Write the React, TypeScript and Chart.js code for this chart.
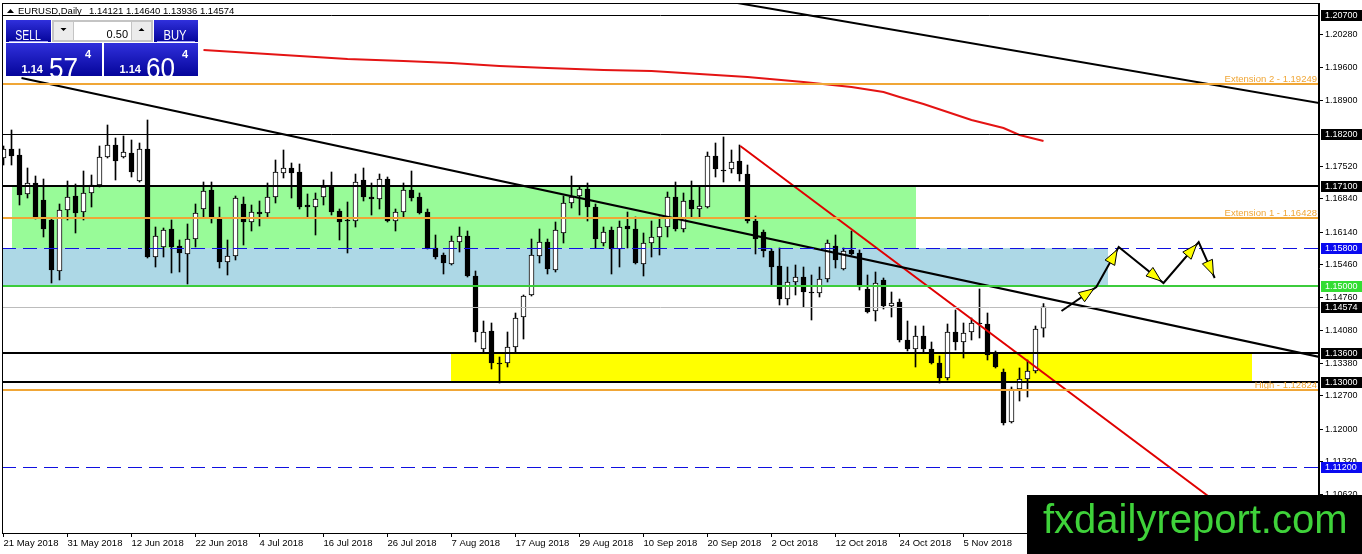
import React, { useEffect, useRef } from "react"
import { Chart, registerables } from "chart.js"

Chart.register(...registerables)

const FONT = "'Liberation Sans', Arial, sans-serif"

// one bar per trading day, bar 0 = 21 May 2018
const dateLabels = [
  "21 May 2018", "31 May 2018", "12 Jun 2018", "22 Jun 2018", "4 Jul 2018", "16 Jul 2018",
  "26 Jul 2018", "7 Aug 2018", "17 Aug 2018", "29 Aug 2018", "10 Sep 2018", "20 Sep 2018",
  "2 Oct 2018", "12 Oct 2018", "24 Oct 2018", "5 Nov 2018",
]
const dateStep = 8

const opens = [
  1.17697, 1.17886, 1.1776, 1.16941, 1.17172, 1.16815, 1.16395, 1.15324, 1.16605, 1.16899,
  1.16563, 1.16962, 1.1713, 1.17718, 1.1797, 1.17718, 1.17802, 1.17214, 1.17886, 1.15618,
  1.15828, 1.16206, 1.15849, 1.15681, 1.15996, 1.16626, 1.17025, 1.16416, 1.15513, 1.15639,
  1.16731, 1.16353, 1.16563, 1.16542, 1.16878, 1.17382, 1.17487, 1.17403, 1.1671, 1.16668,
  1.16878, 1.17088, 1.16584, 1.16395, 1.16374, 1.17235, 1.16878, 1.16836, 1.17256, 1.16374,
  1.16563, 1.17025, 1.16878, 1.16563, 1.15807, 1.1566, 1.15471, 1.15933, 1.16059, 1.15219,
  1.13686, 1.14064, 1.13392, 1.13392, 1.13728, 1.14358, 1.1482, 1.15639, 1.15933, 1.15345,
  1.16122, 1.16752, 1.16899, 1.17046, 1.16668, 1.15912, 1.16185, 1.15786, 1.16269, 1.16206,
  1.15471, 1.15912, 1.16038, 1.16248, 1.16878, 1.16206, 1.16815, 1.16626, 1.16668, 1.17739,
  1.17445, 1.17466, 1.17634, 1.17361, 1.16374, 1.16143, 1.15744, 1.15429, 1.14736, 1.15093,
  1.15198, 1.14883, 1.14862, 1.15156, 1.15849, 1.15366, 1.15765, 1.15702, 1.14946, 1.14484,
  1.15135, 1.14589, 1.14673, 1.13875, 1.13686, 1.13959, 1.13686, 1.13392, 1.13077, 1.14043,
  1.13833, 1.14043, 1.14232, 1.14211, 1.13602, 1.13203, 1.12153, 1.12846, 1.13056, 1.13224,
  1.14121,
]
const highs = [
  1.17949, 1.18285, 1.17886, 1.17487, 1.17319, 1.17256, 1.16437, 1.16731, 1.17214, 1.17151,
  1.17424, 1.1734, 1.17949, 1.1839, 1.18117, 1.18159, 1.18075, 1.18012, 1.18495, 1.16248,
  1.16227, 1.16395, 1.15975, 1.16311, 1.16731, 1.17193, 1.17193, 1.16668, 1.15975, 1.16899,
  1.16878, 1.1671, 1.16794, 1.17172, 1.17655, 1.17865, 1.17592, 1.17571, 1.16941, 1.16962,
  1.17235, 1.17403, 1.16626, 1.16773, 1.17361, 1.17487, 1.17172, 1.17361, 1.17298, 1.16626,
  1.17172, 1.17424, 1.16962, 1.16626, 1.1608, 1.15702, 1.16059, 1.16248, 1.16164, 1.15324,
  1.14274, 1.14232, 1.13518, 1.14043, 1.14442, 1.1482, 1.15996, 1.16206, 1.15996, 1.16353,
  1.16899, 1.17319, 1.17088, 1.17172, 1.16731, 1.16248, 1.16248, 1.16374, 1.16563, 1.16458,
  1.16122, 1.16374, 1.16458, 1.16983, 1.17193, 1.16962, 1.17214, 1.17088, 1.17823, 1.18012,
  1.18138, 1.17865, 1.1797, 1.1755, 1.16479, 1.16185, 1.15786, 1.15807, 1.15408, 1.1545,
  1.15408, 1.1524, 1.15408, 1.15975, 1.1608, 1.15807, 1.16164, 1.15765, 1.1524, 1.15303,
  1.15177, 1.14883, 1.14736, 1.14274, 1.14169, 1.14169, 1.13833, 1.13539, 1.14211, 1.14505,
  1.14232, 1.14337, 1.14946, 1.14442, 1.13644, 1.13266, 1.12888, 1.13287, 1.13455, 1.14169,
  1.1464,
]
const lows = [
  1.1755, 1.1755, 1.1671, 1.16857, 1.16416, 1.16038, 1.15072, 1.15135, 1.16395, 1.16122,
  1.16395, 1.16668, 1.17088, 1.17697, 1.17235, 1.17697, 1.17298, 1.17193, 1.15597, 1.15408,
  1.15618, 1.15282, 1.15303, 1.15051, 1.15828, 1.16458, 1.16332, 1.15387, 1.1524, 1.15555,
  1.1587, 1.16164, 1.16269, 1.16458, 1.16752, 1.17277, 1.16857, 1.16626, 1.16458, 1.1608,
  1.1671, 1.165, 1.15975, 1.15702, 1.16248, 1.16794, 1.165, 1.16626, 1.16353, 1.16164,
  1.16437, 1.16794, 1.16521, 1.15786, 1.15576, 1.15261, 1.1545, 1.15723, 1.15198, 1.13833,
  1.13602, 1.13266, 1.12972, 1.13308, 1.13623, 1.13896, 1.14799, 1.15492, 1.15261, 1.15303,
  1.15912, 1.16647, 1.165, 1.16374, 1.15807, 1.15849, 1.15261, 1.15408, 1.15807, 1.15471,
  1.15219, 1.15618, 1.1566, 1.16038, 1.16164, 1.16143, 1.16458, 1.16458, 1.16647, 1.17298,
  1.17193, 1.17382, 1.17214, 1.16332, 1.15681, 1.15618, 1.15009, 1.1461, 1.1461, 1.1482,
  1.14568, 1.14295, 1.14778, 1.15093, 1.15387, 1.15345, 1.1566, 1.14925, 1.14442, 1.14274,
  1.14526, 1.14358, 1.13833, 1.13644, 1.13308, 1.13602, 1.13371, 1.12972, 1.13035, 1.13665,
  1.13497, 1.13875, 1.13917, 1.13455, 1.13287, 1.1209, 1.12132, 1.12594, 1.12678, 1.13182,
  1.13936,
]
const closes = [
  1.17886, 1.17739, 1.1692, 1.17172, 1.16437, 1.16206, 1.15345, 1.16605, 1.16878, 1.16542,
  1.16962, 1.1713, 1.17718, 1.1797, 1.17634, 1.17823, 1.17403, 1.17886, 1.15618, 1.16059,
  1.16185, 1.15828, 1.15702, 1.15996, 1.16542, 1.17004, 1.16437, 1.15513, 1.15639, 1.16857,
  1.16353, 1.16563, 1.16521, 1.16878, 1.17403, 1.17487, 1.17382, 1.16668, 1.16668, 1.16836,
  1.17088, 1.16563, 1.16353, 1.16374, 1.17193, 1.16878, 1.16836, 1.17256, 1.16374, 1.16563,
  1.17025, 1.16857, 1.16542, 1.15807, 1.15618, 1.15492, 1.15954, 1.16059, 1.15219, 1.14043,
  1.14043, 1.13392, 1.13371, 1.13728, 1.14337, 1.14799, 1.1566, 1.15933, 1.15366, 1.16185,
  1.16752, 1.16878, 1.17046, 1.16668, 1.15996, 1.16143, 1.15786, 1.16248, 1.16206, 1.15492,
  1.15912, 1.16038, 1.16248, 1.16878, 1.16206, 1.16794, 1.16626, 1.16689, 1.17739, 1.17466,
  1.17424, 1.17613, 1.17361, 1.16374, 1.15996, 1.15744, 1.15408, 1.14736, 1.15093, 1.15198,
  1.14883, 1.14862, 1.15156, 1.15912, 1.15555, 1.15744, 1.15681, 1.14988, 1.14463, 1.15072,
  1.14589, 1.14652, 1.13875, 1.13686, 1.13959, 1.13686, 1.13392, 1.13077, 1.14043, 1.13833,
  1.14022, 1.14232, 1.14211, 1.1356, 1.13308, 1.12132, 1.12846, 1.13056, 1.13224, 1.14106,
  1.14574,
]

// moving average, read at a few bars
const maBars = [25, 31, 37, 43, 50, 56, 62, 68, 75, 81, 87, 93, 100, 106, 110, 112, 115, 118, 121, 125, 127, 130]
const maValues = [
  1.19965, 1.19902, 1.19839, 1.19776, 1.19734, 1.19692, 1.19629, 1.19587, 1.19545, 1.19524, 1.19461,
  1.19398, 1.19293, 1.19188, 1.19083, 1.18978, 1.18831, 1.18663, 1.18495, 1.18327, 1.1818, 1.18054,
]

const priceTicks = [
  1.2028, 1.196, 1.189, 1.1752, 1.1684, 1.1614, 1.1546, 1.1476, 1.1408, 1.1338, 1.127, 1.12, 1.1132, 1.1062,
]

// horizontal levels
const levelPrices = [1.207, 1.19249, 1.182, 1.171, 1.16428, 1.158, 1.15, 1.14574, 1.136, 1.13, 1.12824, 1.112]
const levelTexts = ["", "Extension 2 - 1.19249", "", "", "Extension 1 - 1.16428", "", "", "", "", "", "High - 1.12824", ""]
const levelTags = [true, false, true, true, false, true, true, true, true, true, false, true]

// zones: [fromBar, toBar, top, bottom]
const zones = [
  [1, 114, 1.171, 1.158],
  [-1, 138, 1.158, 1.15],
  [56, 156, 1.136, 1.13],
]

// trend lines: [[bar, price], [bar, price]]
const trendLines = [
  [[2.25, 1.19377], [164.5, 1.13518]],
  [[91.75, 1.20952], [164.5, 1.18852]],
  [[92.1, 1.17949], [156.75, 1.09822]],
]

// projected path
const pathBars = [132.25, 136.6, 139.4, 145, 149.4, 151.4]
const pathPrices = [1.14484, 1.14988, 1.15828, 1.15072, 1.15933, 1.15177]

const headerName = "EURUSD,Daily"
const headerQuote = "1.14121 1.14640 1.13936 1.14574"

// styles
const X_MIN = -0.1875
const X_MAX = 164.4375
const Y_MIN = 1.09822
const Y_MAX = 1.20952
const ORANGE = "#f0a636"
const BLUE = "#1010e0"
const GREEN = "#3ccc3c"
const levelColors = ["#000", ORANGE, "#000", "#000", ORANGE, BLUE, GREEN, "#bcbcbc", "#000", "#000", ORANGE, BLUE]
const levelWidths = [1, 2, 1, 2, 2, 1, 2, 1, 2, 2, 2, 1]
const levelDashed = [false, false, false, false, false, true, false, false, false, false, false, true]
const tagColors = ["#000", "", "#000", "#000", "", "#0a0af0", "#33dd33", "#000", "#000", "#000", "", "#0a0af0"]
const zoneColors = ["#98fb98", "#add8e6", "#ffff00"]
const trendColors = ["#000", "#000", "#e00000"]

const zonesPlugin = {
  id: "zones",
  beforeDatasetsDraw(chart: any) {
    const { ctx, chartArea: a, scales } = chart
    ctx.save()
    ctx.beginPath()
    ctx.rect(a.left, a.top, a.width, a.height)
    ctx.clip()
    zones.forEach((z, k) => {
      const x0 = Math.round(scales.x.getPixelForValue(z[0]))
      const x1 = Math.round(scales.x.getPixelForValue(z[1]))
      const y0 = Math.round(scales.y.getPixelForValue(z[2]))
      const y1 = Math.round(scales.y.getPixelForValue(z[3]))
      ctx.fillStyle = zoneColors[k]
      ctx.fillRect(x0, y0, x1 - x0, y1 - y0)
    })
    ctx.restore()
  },
}

const levelsPlugin = {
  id: "levels",
  afterDatasetsDraw(chart: any) {
    const { ctx, chartArea: a, scales } = chart
    ctx.save()
    ctx.beginPath()
    ctx.rect(a.left, a.top, a.width, a.height)
    ctx.clip()
    levelPrices.forEach((p, k) => {
      const w = levelWidths[k]
      const py = Math.round(scales.y.getPixelForValue(p)) + (w % 2 ? 0.5 : 0)
      ctx.strokeStyle = levelColors[k]
      ctx.lineWidth = w
      ctx.setLineDash(levelDashed[k] ? [14, 7] : [])
      ctx.beginPath()
      ctx.moveTo(a.left, py)
      ctx.lineTo(a.right, py)
      ctx.stroke()
      if (levelTexts[k]) {
        ctx.fillStyle = ORANGE
        ctx.font = "9.5px " + FONT
        ctx.textAlign = "right"
        ctx.textBaseline = "alphabetic"
        ctx.fillText(levelTexts[k], a.right - 2, py - 2)
      }
    })
    ctx.setLineDash([])

    // projected zig-zag with yellow heads
    const pts = pathBars.map((b, k) => [scales.x.getPixelForValue(b), scales.y.getPixelForValue(pathPrices[k])])
    ctx.strokeStyle = "#000"
    ctx.lineWidth = 2
    ctx.beginPath()
    pts.forEach((p, k) => (k ? ctx.lineTo(p[0], p[1]) : ctx.moveTo(p[0], p[1])))
    ctx.stroke()
    for (let k = 1; k < pts.length; k++) {
      const [ax, ay] = pts[k - 1]
      const [bx, by] = pts[k]
      const len = Math.hypot(bx - ax, by - ay)
      const ux = (bx - ax) / len
      const uy = (by - ay) / len
      const tx = bx - ux * 3
      const ty = by - uy * 3
      const hx = tx - ux * 15
      const hy = ty - uy * 15
      ctx.beginPath()
      ctx.moveTo(tx, ty)
      ctx.lineTo(hx - uy * 5.5, hy + ux * 5.5)
      ctx.lineTo(hx + uy * 5.5, hy - ux * 5.5)
      ctx.closePath()
      ctx.fillStyle = "#ffff00"
      ctx.fill()
      ctx.lineWidth = 1
      ctx.stroke()
      ctx.lineWidth = 2
    }
    ctx.restore()
  },
}

function drawTradePanel(ctx: CanvasRenderingContext2D) {
  const blue = (y0: number, y1: number) => {
    const g = ctx.createLinearGradient(0, y0, 0, y1)
    g.addColorStop(0, "#3030dc")
    g.addColorStop(1, "#05059a")
    return g
  }
  ctx.save()
  ctx.fillStyle = blue(20, 42)
  ctx.fillRect(6, 20, 45, 22)
  ctx.fillRect(154, 20, 44, 22)
  ctx.fillStyle = blue(43, 76)
  ctx.fillRect(6, 43, 96, 33)
  ctx.fillRect(104, 43, 94, 33)
  ctx.strokeStyle = "#a0a0f4"
  ctx.lineWidth = 1
  ctx.beginPath()
  ctx.moveTo(9, 41.5)
  ctx.lineTo(48, 41.5)
  ctx.moveTo(157, 41.5)
  ctx.lineTo(195, 41.5)
  ctx.stroke()

  // lot size control
  ctx.fillStyle = "#c4c4c4"
  ctx.fillRect(52, 20, 101, 22)
  ctx.fillStyle = "#ececec"
  ctx.fillRect(54, 22, 19, 18)
  ctx.fillRect(132, 22, 19, 18)
  ctx.fillStyle = "#fff"
  ctx.fillRect(74, 22, 57, 18)
  ctx.fillStyle = "#000"
  ctx.beginPath()
  ctx.moveTo(60.5, 28)
  ctx.lineTo(66.5, 28)
  ctx.lineTo(63.5, 31)
  ctx.closePath()
  ctx.moveTo(138.5, 31)
  ctx.lineTo(144.5, 31)
  ctx.lineTo(141.5, 28)
  ctx.closePath()
  ctx.fill()
  ctx.font = "11px " + FONT
  ctx.textAlign = "right"
  ctx.fillText("0.50", 128, 34.5)

  const narrow = (t: string, x: number, y: number, sx: number) => {
    ctx.save()
    ctx.translate(x, y)
    ctx.scale(sx, 1)
    ctx.fillText(t, 0, 0)
    ctx.restore()
  }
  ctx.fillStyle = "#fff"
  ctx.textAlign = "center"
  ctx.font = "14px " + FONT
  narrow("SELL", 28, 36, 0.75)
  narrow("BUY", 175, 36, 0.8)
  ctx.textAlign = "left"
  ctx.font = "bold 11px " + FONT
  ctx.fillText("1.14", 21.5, 70)
  ctx.fillText("1.14", 119.5, 70)
  ctx.fillText("4", 85, 55)
  ctx.fillText("4", 182, 55)
  ctx.font = "29px " + FONT
  narrow("57", 49, 70, 0.9)
  narrow("60", 146, 70, 0.9)
  ctx.restore()
}

const overlayPlugin = {
  id: "overlay",
  afterDraw(chart: any) {
    const { ctx, chartArea: a, scales } = chart
    ctx.save()
    // frame
    ctx.strokeStyle = "#000"
    ctx.lineWidth = 1
    ctx.strokeRect(a.left + 0.5, a.top + 0.5, a.width - 1, a.height)

    // header
    ctx.fillStyle = "#000"
    ctx.beginPath()
    ctx.moveTo(7, 13)
    ctx.lineTo(14, 13)
    ctx.lineTo(10.5, 9)
    ctx.closePath()
    ctx.fill()
    ctx.font = "9.5px " + FONT
    ctx.textAlign = "left"
    ctx.textBaseline = "alphabetic"
    ctx.fillText(headerName, 18, 14)
    ctx.fillText(headerQuote, 89, 14)

    // price tags on the right axis
    ctx.font = "9px " + FONT
    ctx.textBaseline = "middle"
    levelPrices.forEach((p, k) => {
      if (!levelTags[k]) return
      const py = Math.round(scales.y.getPixelForValue(p))
      ctx.fillStyle = tagColors[k]
      ctx.fillRect(a.right + 2, py - 5, chart.width - a.right - 2, 11)
      ctx.fillStyle = "#fff"
      ctx.fillText(p.toFixed(5), a.right + 6, py + 0.5)
    })

    drawTradePanel(ctx)

    // watermark
    ctx.fillStyle = "#000"
    ctx.fillRect(1027, 495, chart.width - 1027, chart.height - 495)
    ctx.fillStyle = "#3fd23a"
    ctx.font = "40px " + FONT
    ctx.textBaseline = "alphabetic"
    ctx.fillText("fxdailyreport.com", 1043, 533)
    ctx.restore()
  },
}

const CandleChart = () => {
  const canvasRef = useRef<HTMLCanvasElement>(null)

  useEffect(() => {
    if (canvasRef.current == null) {
      return
    }

    const bodies = opens.map((o, i) => ({ x: i, y: [o, closes[i]] }))
    const wicks = highs.map((h, i) => ({ x: i, y: [lows[i], h] }))
    const ma = maBars.map((b, k) => ({ x: b, y: maValues[k] }))
    const trends = trendLines.map((t, k) => ({
      type: "line" as const,
      data: t.map((p) => ({ x: p[0], y: p[1] })),
      borderColor: trendColors[k],
      borderWidth: 2,
      pointRadius: 0,
      order: 0,
    }))

    const chart = new Chart(canvasRef.current, {
      type: "bar",
      data: {
        datasets: [
          {
            type: "bar",
            data: bodies as any,
            backgroundColor: (c: any) => (c.raw && c.raw.y[1] >= c.raw.y[0] ? "#fff" : "#000"),
            borderColor: "#000",
            borderWidth: 1,
            borderSkipped: false,
            barThickness: 5,
            minBarLength: 1,
            grouped: false,
            order: 1,
          },
          {
            type: "bar",
            data: wicks as any,
            backgroundColor: "#000",
            borderWidth: 0,
            barThickness: 1,
            grouped: false,
            order: 2,
          },
          {
            type: "line",
            data: ma as any,
            borderColor: "#e41414",
            borderWidth: 2,
            pointRadius: 0,
            order: 0,
          },
          ...(trends as any),
        ],
      },
      options: {
        animation: false,
        responsive: false,
        events: [],
        layout: { padding: { left: 2, top: 3, right: 0, bottom: 0 } },
        plugins: { legend: { display: false }, tooltip: { enabled: false } },
        scales: {
          x: {
            type: "linear",
            min: X_MIN,
            max: X_MAX,
            offset: false,
            afterBuildTicks: (s: any) => {
              s.ticks = dateLabels.map((_, k) => ({ value: k * dateStep }))
            },
            afterFit: (s: any) => {
              s.height = 21
              s.paddingLeft = 0
              s.paddingRight = 0
            },
            ticks: {
              callback: (_v: any, idx: number) => dateLabels[idx],
              align: "start",
              maxRotation: 0,
              autoSkip: false,
              padding: 1,
              color: "#000",
              font: { family: FONT, size: 9.5 },
            },
            grid: { drawOnChartArea: false, offset: false, tickLength: 4, color: "#000" },
            border: { color: "#000" },
          },
          y: {
            type: "linear",
            position: "right",
            min: Y_MIN,
            max: Y_MAX,
            afterBuildTicks: (s: any) => {
              s.ticks = priceTicks.map((v) => ({ value: v }))
            },
            afterFit: (s: any) => {
              s.width = 43
              s.paddingTop = 0
              s.paddingBottom = 0
            },
            ticks: {
              callback: (v: any) => Number(v).toFixed(5),
              autoSkip: false,
              padding: 2,
              color: "#000",
              font: { family: FONT, size: 9 },
            },
            grid: { drawOnChartArea: false, tickLength: 4, color: "#000" },
            border: { color: "#000" },
          },
        },
      },
      plugins: [zonesPlugin, levelsPlugin, overlayPlugin],
    })

    return () => {
      chart.destroy()
    }
  }, [])

  return (
    <div style={{ position: "fixed", left: 0, top: 0, width: 1362, height: 554, background: "#fff" }}>
      <canvas ref={canvasRef} width={1362} height={554} style={{ display: "block" }} />
    </div>
  )
}

export default function App() {
  return <CandleChart />
}
